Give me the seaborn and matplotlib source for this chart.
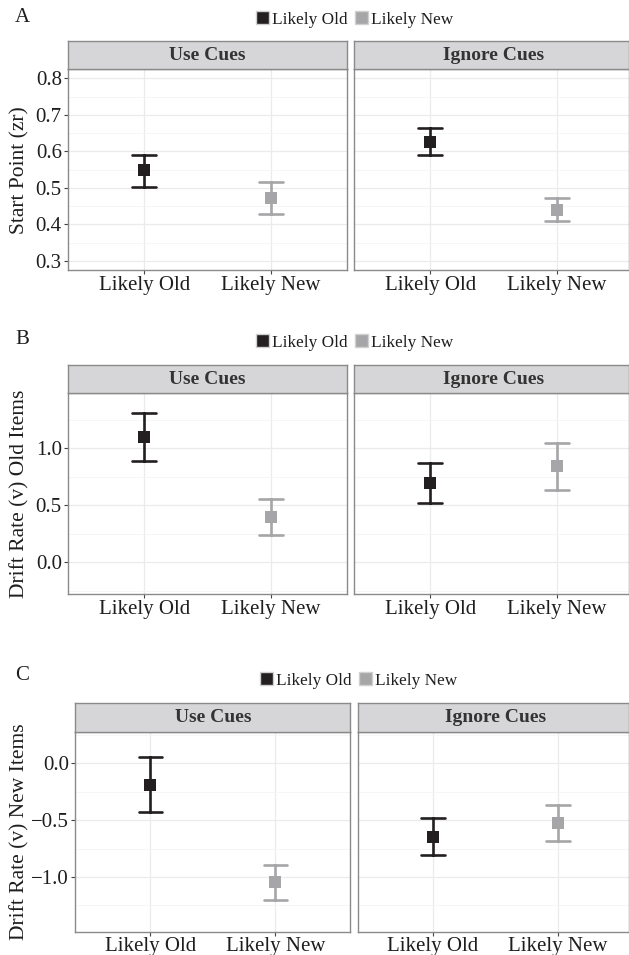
import numpy as np
import pandas as pd
import matplotlib
matplotlib.use("Agg")
import matplotlib.pyplot as plt
from matplotlib.patches import Patch
import seaborn as sns

# ---- data -------------------------------------------------------------
cue_levels = ["Likely Old", "Likely New"]
instructions = ["Use Cues", "Ignore Cues"]

# Start point (zr): point estimate with lower / upper interval bounds
zr_use_mid = [0.548, 0.473]
zr_use_lo = [0.502, 0.428]
zr_use_hi = [0.590, 0.517]
zr_ign_mid = [0.626, 0.440]
zr_ign_lo = [0.589, 0.410]
zr_ign_hi = [0.665, 0.472]

# Drift rate (v) for old items
vold_use_mid = [1.096, 0.395]
vold_use_lo = [0.883, 0.234]
vold_use_hi = [1.307, 0.550]
vold_ign_mid = [0.693, 0.842]
vold_ign_lo = [0.518, 0.635]
vold_ign_hi = [0.868, 1.041]

# Drift rate (v) for new items
vnew_use_mid = [-0.188, -1.047]
vnew_use_lo = [-0.424, -1.199]
vnew_use_hi = [0.053, -0.895]
vnew_ign_mid = [-0.646, -0.521]
vnew_ign_lo = [-0.807, -0.679]
vnew_ign_hi = [-0.482, -0.366]

panel_letters = ["A", "B", "C"]
y_titles = ["Start Point (zr)", "Drift Rate (v) Old Items", "Drift Rate (v) New Items"]
y_ticks = [[0.3, 0.4, 0.5, 0.6, 0.7, 0.8], [0.0, 0.5, 1.0], [-1.0, -0.5, 0.0]]
y_minor = [[0.35, 0.45, 0.55, 0.65, 0.75], [-0.25, 0.25, 0.75, 1.25], [-1.25, -0.75, -0.25, 0.25]]
y_limits = [(0.275, 0.825), (-0.28, 1.48), (-1.48, 0.28)]

rows = [
    ((zr_use_mid, zr_use_lo, zr_use_hi), (zr_ign_mid, zr_ign_lo, zr_ign_hi)),
    ((vold_use_mid, vold_use_lo, vold_use_hi), (vold_ign_mid, vold_ign_lo, vold_ign_hi)),
    ((vnew_use_mid, vnew_use_lo, vnew_use_hi), (vnew_ign_mid, vnew_ign_lo, vnew_ign_hi)),
]

# ---- styling ----------------------------------------------------------
sns.set_style("white")
plt.rcParams["font.family"] = ["Liberation Serif", "DejaVu Serif"]
plt.rcParams["axes.unicode_minus"] = True

palette = {"Likely Old": "#231f20", "Likely New": "#a6a6a8"}
strip_color = "#d6d6d8"
border_color = "#8a8a8a"
text_color = "#1e1e1e"

W, H = 629, 955
fig = plt.figure(figsize=(W / 100, H / 100), dpi=100)


def rect(left, top, right, bottom):
    return [left / W, 1 - bottom / H, (right - left) / W, (bottom - top) / H]


def fmt(t):
    return f"{t:.1f}".replace("-", "\u2212")


# pixel layout per row: strip top, panel top, panel bottom, left-panel left,
# left-panel right, right-panel left, legend centre y, legend centre x
layout = [
    dict(st=41.2, pt=69.3, pb=270.0, l0=68.3, r0=346.7, l1=354.3, ly=19.5, lx=354.5, letter_y=18),
    dict(st=365.0, pt=393.3, pb=594.0, l0=68.3, r0=346.7, l1=354.3, ly=342.7, lx=354.5, letter_y=339),
    dict(st=703.3, pt=731.7, pb=931.5, l0=75.4, r0=350.4, l1=358.0, ly=680.7, lx=358.5, letter_y=676),
]
right_edge = 628.5


def long_frame(mid, lo, hi):
    # three values per condition: lower bound, estimate, upper bound
    recs = []
    for i, cue in enumerate(cue_levels):
        for v in (lo[i], mid[i], hi[i]):
            recs.append({"cue": cue, "value": v})
    return pd.DataFrame(recs)


for r, (row_data, lay) in enumerate(zip(rows, layout)):
    unit = (lay["r0"] - lay["l0"]) / 2.2
    spans = [(lay["l0"], lay["r0"], 1.6), (lay["l1"], right_edge, -0.6 + (right_edge - lay["l1"]) / unit)]
    for c, ((mid, lo, hi), (x0, x1, xmax)) in enumerate(zip(row_data, spans)):
        ax = fig.add_axes(rect(x0, lay["pt"], x1, lay["pb"]))
        df = long_frame(mid, lo, hi)
        sns.pointplot(
            data=df, x="cue", y="value", hue="cue", order=cue_levels,
            hue_order=cue_levels, palette=palette, estimator="median",
            errorbar=("pi", 100), markers="s", linestyle="none",
            markersize=8.6, markeredgewidth=0, capsize=0.19,
            err_kws={"linewidth": 1.9}, legend=False, ax=ax,
        )
        ax.set_xlim(-0.6, xmax)
        ax.set_ylim(*y_limits[r])
        ax.set_yticks(y_ticks[r])
        ax.set_yticks(y_minor[r], minor=True)
        ax.set_yticklabels([fmt(t) for t in y_ticks[r]] if c == 0 else [])
        ax.set_xlabel("")
        ax.set_ylabel("")
        ax.grid(True, which="major", color="#ebebeb", linewidth=0.9)
        ax.grid(True, which="minor", axis="y", color="#f5f5f5", linewidth=0.6)
        ax.set_axisbelow(True)
        for sp in ax.spines.values():
            sp.set_visible(True)
            sp.set_color(border_color)
            sp.set_linewidth(1.0)
        ax.tick_params(axis="both", which="major", length=3.2, width=0.8,
                       color="#444444", labelsize=15, labelcolor=text_color, pad=1.5)
        ax.tick_params(axis="y", which="major", left=(c == 0))
        ax.tick_params(axis="x", which="major", bottom=True, pad=0.8)
        ax.tick_params(axis="y", which="minor", left=False)

        # facet strip
        sax = fig.add_axes(rect(x0, lay["st"], x1, lay["pt"]))
        sax.set_facecolor(strip_color)
        sax.set_xticks([])
        sax.set_yticks([])
        for sp in sax.spines.values():
            sp.set_color(border_color)
            sp.set_linewidth(1.0)
        centre = (x0 + (x0 + (x1 - x0) * 2.2 / (xmax + 0.6))) / 2 if c == 1 else (x0 + x1) / 2
        sax.text((centre - x0) / (x1 - x0), 0.5, instructions[c], transform=sax.transAxes,
                 ha="center", va="center", fontsize=14, fontweight="bold", color="#333333")

    # y axis title
    fig.text(19.5 / W, 1 - (lay["pt"] + lay["pb"]) / 2 / H, y_titles[r], rotation=90,
             ha="center", va="center", fontsize=15.5, color=text_color)
    # panel letter
    fig.text(22 / W, 1 - lay["letter_y"] / H, panel_letters[r], ha="center", va="center",
             fontsize=15, color=text_color)
    # legend
    handles = [Patch(facecolor=palette[k], edgecolor="#d0d0d0", linewidth=1.0, label=k)
               for k in cue_levels]
    fig.legend(handles=handles, loc="center", ncol=2, frameon=False,
               bbox_to_anchor=(lay["lx"] / W, 1 - lay["ly"] / H),
               fontsize=12.4, handlelength=0.78, handleheight=0.78,
               handletextpad=0.18, columnspacing=0.4, borderpad=0, labelcolor=text_color)

fig.savefig("out.png", dpi=100)
